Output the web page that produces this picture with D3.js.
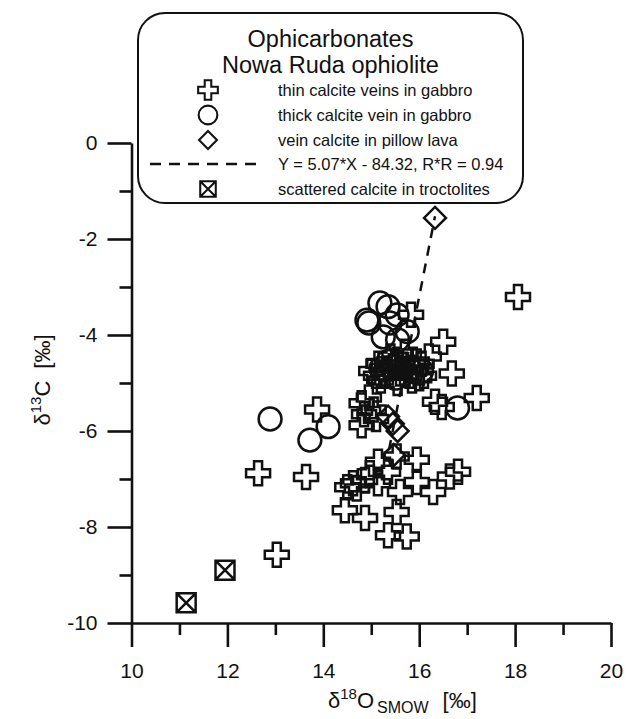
<!DOCTYPE html>
<html>
<head>
<meta charset="UTF-8" />
<title>Ophicarbonates - Nowa Ruda ophiolite</title>
<script src="https://d3js.org/d3.v7.min.js"></script>
<style>
  body { margin: 0; background: #fff; }
  svg { display: block; font-family: "Liberation Sans", Arial, sans-serif; }
  .axis path, .axis line { stroke: #111; stroke-width: 2.6; }
  .axis text { font-size: 21px; fill: #111; font-family: "Liberation Sans", Arial, sans-serif; }
  .mark { fill: none; stroke: #111; stroke-width: 2.5; }
</style>
</head>
<body>
<svg id="chart" width="628" height="719"></svg>
<script>
  // thin calcite veins in gabbro  [d18O, d13C]
  const thinVeins = [
    [18.06, -3.21], [15.83, -3.58], [16.50, -4.14], [16.68, -4.80], [17.20, -5.31],
    [16.33, -5.39], [16.47, -5.50],
    [15.00, -4.75], [15.15, -4.60], [15.30, -4.85], [15.45, -4.65], [15.60, -4.80],
    [15.75, -4.55], [15.90, -4.75], [16.05, -4.60], [16.20, -4.45], [15.20, -4.95],
    [15.55, -5.00], [15.85, -4.95], [16.10, -4.85], [15.40, -4.45], [15.70, -4.35],
    [15.10, -4.85], [15.35, -4.70], [15.65, -4.62], [15.95, -4.55], [16.00, -4.90],
    [15.50, -4.55], [15.25, -4.80], [15.80, -4.85],
    [14.80, -5.42], [14.95, -5.30], [15.05, -5.55], [14.85, -5.65], [14.80, -5.88], [15.10, -5.75],
    [13.87, -5.55], [12.64, -6.88], [13.64, -6.96], [13.03, -8.58],
    [15.14, -6.64], [15.53, -6.53], [15.95, -6.60], [16.81, -6.85], [16.64, -6.95],
    [14.62, -7.09], [14.87, -7.02], [15.14, -7.09], [15.95, -7.06], [16.29, -7.27],
    [15.60, -7.27], [14.45, -7.65], [14.87, -7.81], [15.53, -7.69], [15.35, -8.17],
    [15.74, -8.20], [14.50, -7.17], [14.97, -6.88], [15.35, -6.85], [14.70, -7.20]
  ];
  // thick calcite vein in gabbro
  const thickVein = [
    [12.89, -5.75], [13.72, -6.19], [14.10, -5.91], [16.80, -5.52],
    [14.91, -3.69], [14.95, -3.75], [15.18, -3.33], [15.35, -3.41], [15.54, -3.58],
    [15.39, -3.75], [15.25, -4.04], [15.75, -3.93], [15.55, -4.10],
    [15.20, -4.70], [15.50, -4.90], [15.80, -4.70], [16.05, -4.75], [15.35, -4.55]
  ];
  // vein calcite in pillow lava
  const pillowLava = [
    [16.33, -1.56], [15.35, -5.70], [15.45, -5.85], [15.55, -6.00], [15.47, -6.50]
  ];
  // scattered calcite in troctolites
  const troctolites = [[11.14, -9.58], [11.95, -8.90]];
  // regression Y = 5.07*X - 84.32, drawn over this d18O range
  const fitSlope = 5.07, fitIntercept = -84.32;
  const fitRange = [15.37, 16.33];

  const xMajor = [10, 12, 14, 16, 18, 20];
  const xMinor = [11, 13, 15, 17, 19];
  const yMajor = [-10, -8, -6, -4, -2, 0];
  const yMinor = [-9, -7, -5, -3, -1];

  const legendTitle = ["Ophicarbonates", "Nowa Ruda ophiolite"];
  const legendLabels = [
    "thin calcite veins in gabbro",
    "thick calcite vein in gabbro",
    "vein calcite in pillow lava",
    "Y = 5.07*X - 84.32, R*R = 0.94",
    "scattered calcite in troctolites"
  ];

  const svg = d3.select("#chart");
  const x = d3.scaleLinear().domain([10, 20]).range([131.5, 611]);
  const y = d3.scaleLinear().domain([-10, 0]).range([623, 143]);

  // box with a cross inside
  const boxX = {
    draw: function(context, size) {
      const h = Math.sqrt(size) / 2;
      context.moveTo(-h, -h); context.lineTo(h, -h); context.lineTo(h, h);
      context.lineTo(-h, h); context.closePath();
      context.moveTo(-h, -h); context.lineTo(h, h);
      context.moveTo(h, -h); context.lineTo(-h, h);
    }
  };
  const diamond = {
    draw: function(context, size) {
      const r = Math.sqrt(size);
      context.moveTo(0, -r); context.lineTo(r, 0); context.lineTo(0, r);
      context.lineTo(-r, 0); context.closePath();
    }
  };

  const crossPath = d3.symbol().type(d3.symbolCross).size(320);
  const circlePath = d3.symbol().type(d3.symbolCircle).size(410);
  const diamondPath = d3.symbol().type(diamond).size(120);
  const boxPath = d3.symbol().type(boxX).size(360);
  const plain = d => String(d);  // hyphen minus as in the original

  // axes
  svg.append("g").attr("class", "axis")
    .attr("transform", `translate(0,${y(-10)})`)
    .call(d3.axisBottom(x).tickValues(xMinor).tickSize(12).tickFormat(""))
    .call(g => g.select(".domain").remove());
  svg.append("g").attr("class", "axis")
    .attr("transform", `translate(0,${y(-10)})`)
    .call(d3.axisBottom(x).tickValues(xMajor).tickSize(24).tickSizeOuter(0).tickPadding(16)
      .tickFormat(plain));
  svg.append("g").attr("class", "axis")
    .attr("transform", `translate(${x(10)},0)`)
    .call(d3.axisLeft(y).tickValues(yMinor).tickSize(12).tickFormat(""))
    .call(g => g.select(".domain").remove());
  svg.append("g").attr("class", "axis")
    .attr("transform", `translate(${x(10)},0)`)
    .call(d3.axisLeft(y).tickValues(yMajor).tickSize(24).tickSizeOuter(0).tickPadding(10)
      .tickFormat(plain));

  // axis titles
  const xt = svg.append("text").attr("x", 328).attr("y", 708)
    .attr("font-size", 22).attr("fill", "#111");
  xt.append("tspan").text("δ");
  xt.append("tspan").attr("font-size", 15).attr("dy", -9).text("18");
  xt.append("tspan").attr("dy", 9).text("O");
  xt.append("tspan").attr("font-size", 16).attr("dy", 5).attr("dx", 3).text("SMOW");
  xt.append("tspan").attr("dy", -5).attr("dx", 14).text("[‰]");

  const yt = svg.append("text").attr("transform", "translate(50,380) rotate(-90)")
    .attr("text-anchor", "middle").attr("font-size", 22).attr("fill", "#111");
  yt.append("tspan").text("δ");
  yt.append("tspan").attr("font-size", 15).attr("dy", -9).text("13");
  yt.append("tspan").attr("dy", 9).text("C");
  yt.append("tspan").attr("dx", 12).text("[‰]");

  // data marks
  svg.append("g").selectAll("path").data(thinVeins).join("path")
    .attr("class", "mark").attr("d", crossPath)
    .attr("transform", d => `translate(${x(d[0])},${y(d[1])})`);
  svg.append("g").selectAll("path").data(thickVein).join("path")
    .attr("class", "mark").attr("d", circlePath)
    .attr("transform", d => `translate(${x(d[0])},${y(d[1])})`);
  svg.append("g").selectAll("path").data(pillowLava).join("path")
    .attr("class", "mark").attr("d", diamondPath)
    .attr("transform", d => `translate(${x(d[0])},${y(d[1])})`);
  svg.append("line").attr("class", "mark")
    .attr("x1", x(fitRange[0])).attr("y1", y(fitSlope * fitRange[0] + fitIntercept))
    .attr("x2", x(fitRange[1])).attr("y2", y(fitSlope * fitRange[1] + fitIntercept))
    .attr("stroke-dasharray", "10,8");
  svg.append("g").selectAll("path").data(troctolites).join("path")
    .attr("class", "mark").attr("d", boxPath)
    .attr("transform", d => `translate(${x(d[0])},${y(d[1])})`);

  // legend
  const legend = svg.append("g");
  legend.append("rect").attr("x", 138).attr("y", 13).attr("width", 385).attr("height", 190)
    .attr("rx", 27).attr("fill", "#fff").attr("stroke", "#111").attr("stroke-width", 2);
  legend.selectAll("text.title").data(legendTitle).join("text").attr("class", "title")
    .attr("x", 330.5).attr("y", (d, i) => 47 + i * 26)
    .attr("text-anchor", "middle").attr("font-size", 23.5).attr("fill", "#111").text(d => d);

  const rowY = [90, 115, 140, 164, 189];
  const legendSyms = [crossPath, circlePath, diamondPath, null, boxPath];
  legend.selectAll("text.item").data(legendLabels).join("text").attr("class", "item")
    .attr("x", 278).attr("y", (d, i) => rowY[i]).attr("dy", "0.35em")
    .attr("font-size", 16.5).attr("fill", "#111").text(d => d);
  legendSyms.forEach((p, i) => {
    if (p) {
      legend.append("path").attr("class", "mark").attr("d", p)
        .attr("transform", `translate(208,${rowY[i]}) scale(0.82)`);
    } else {
      legend.append("line").attr("class", "mark")
        .attr("x1", 150).attr("x2", 260).attr("y1", rowY[i]).attr("y2", rowY[i])
        .attr("stroke-dasharray", "11,8");
    }
  });
</script>
</body>
</html>
